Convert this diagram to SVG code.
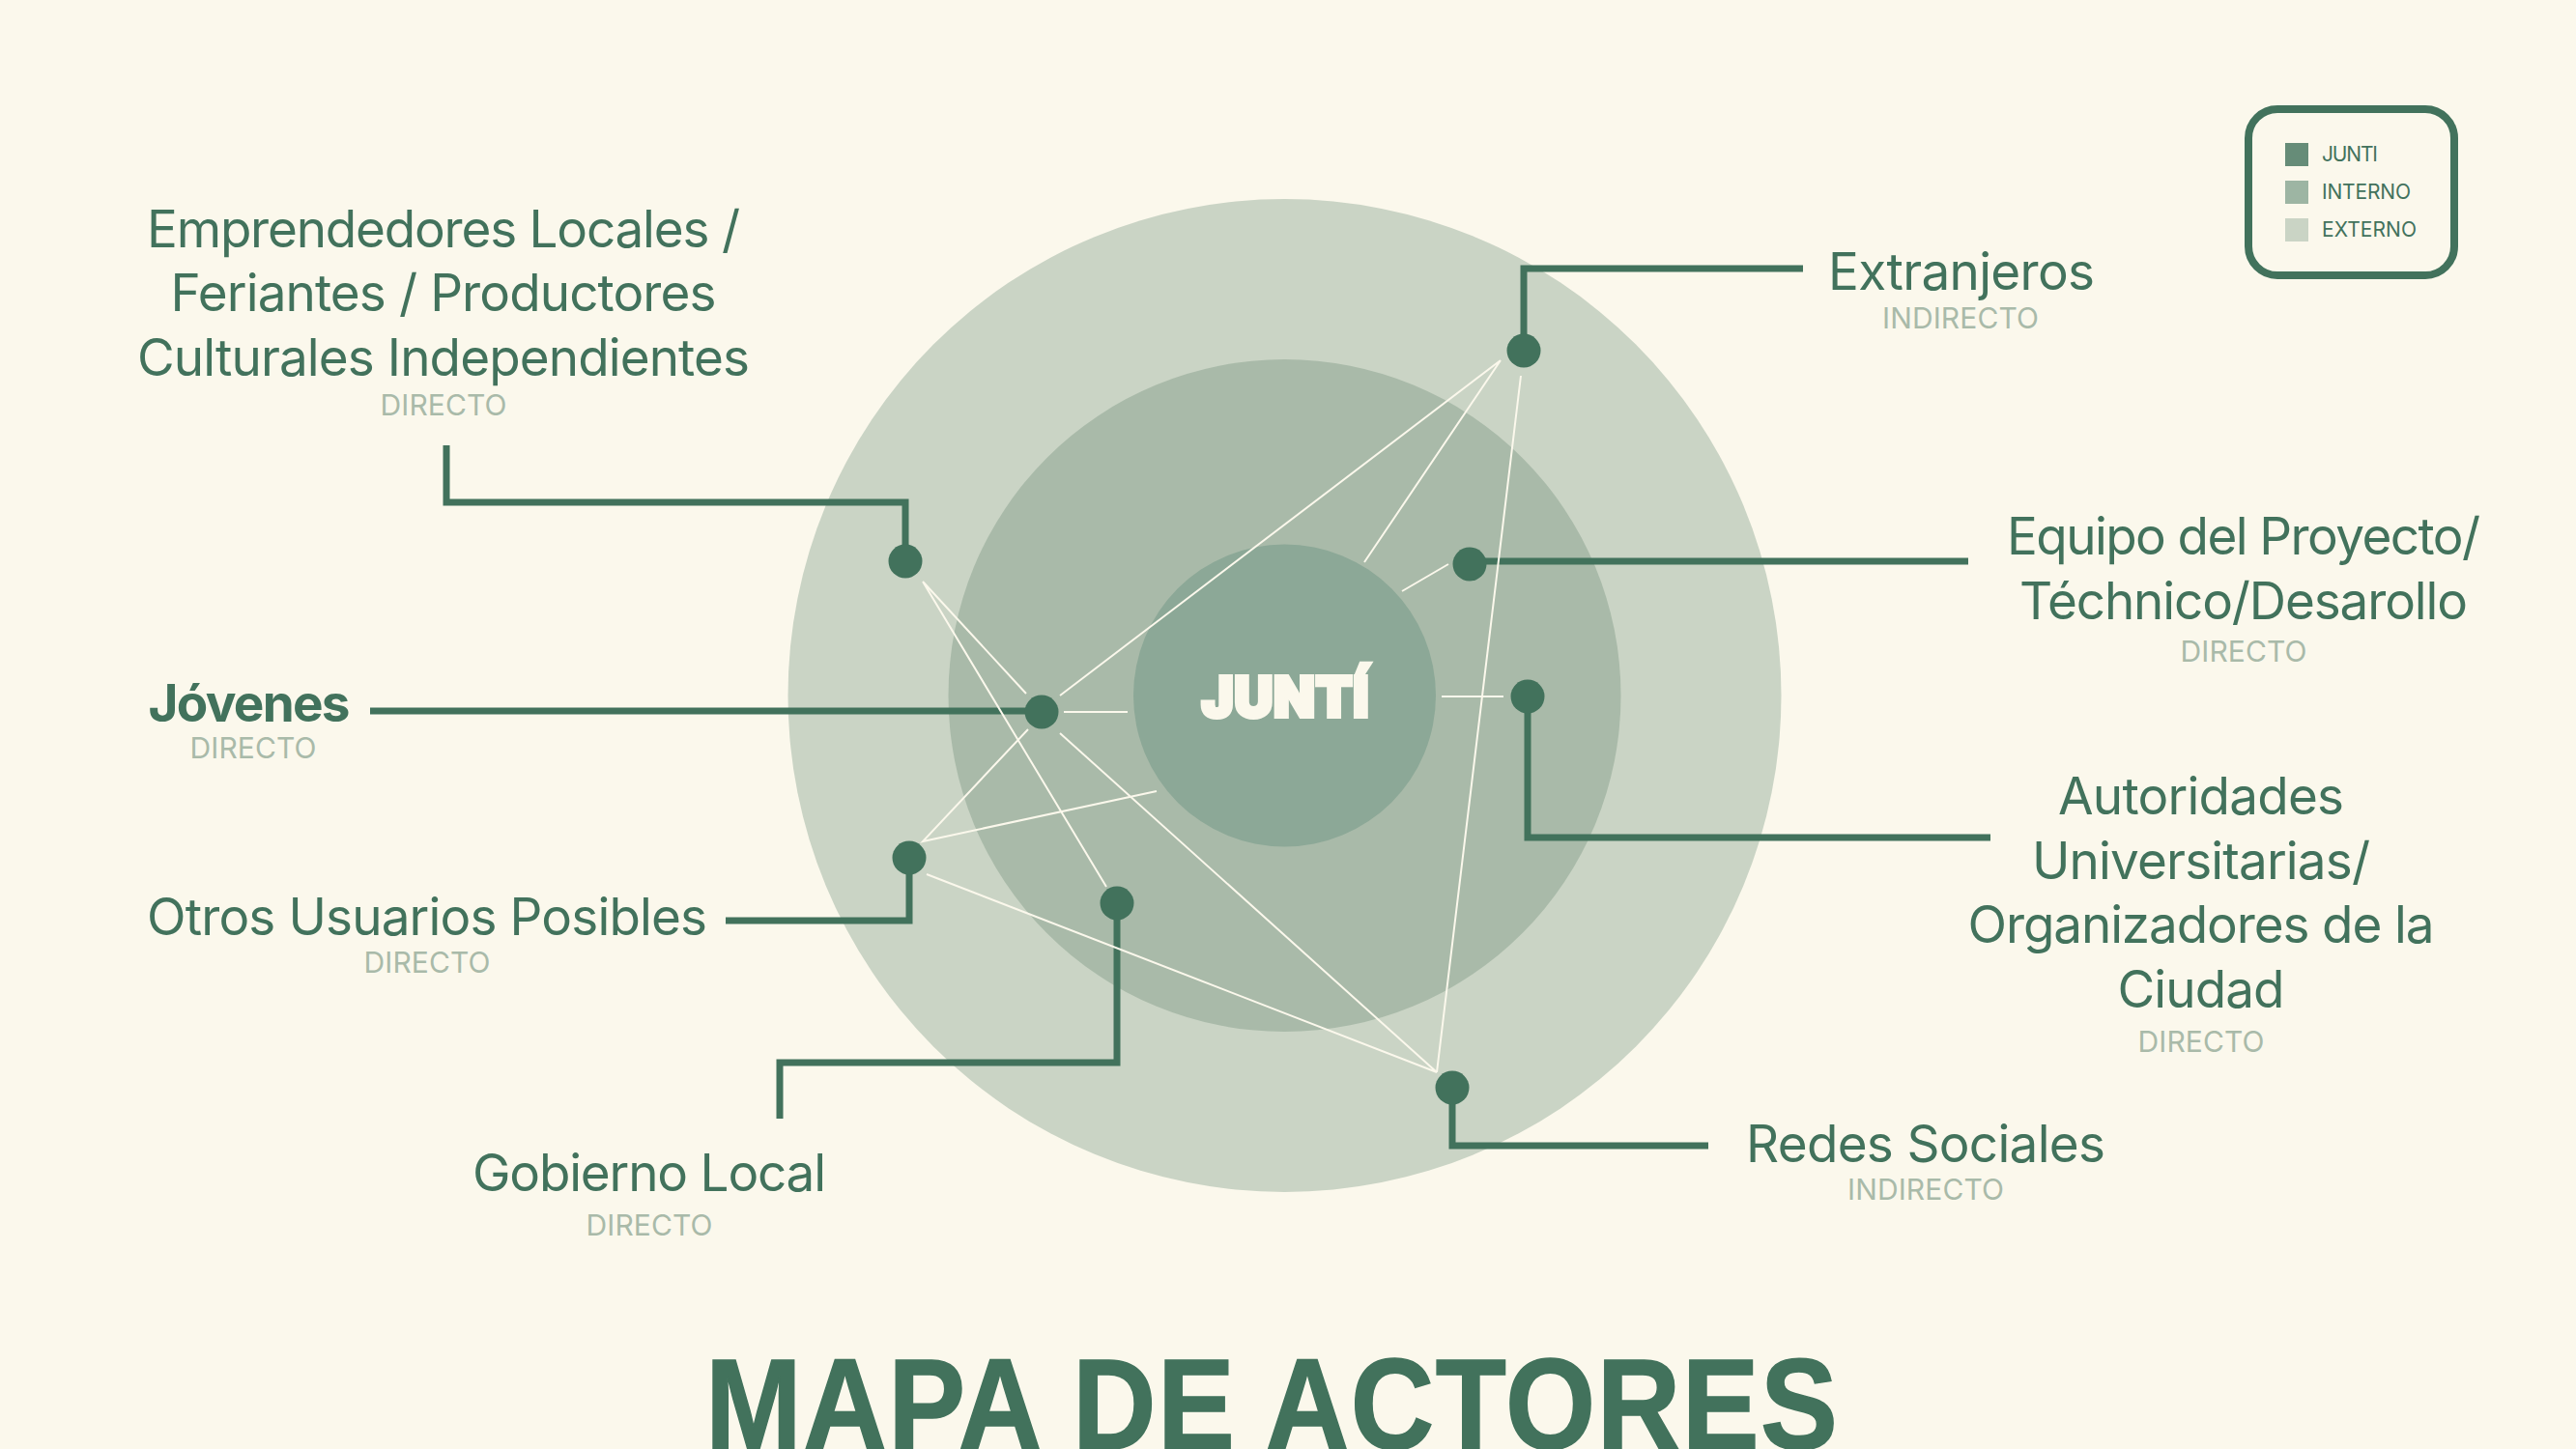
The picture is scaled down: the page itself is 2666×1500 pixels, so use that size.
<svg xmlns="http://www.w3.org/2000/svg" width="2666" height="1500" viewBox="0 0 2666 1500">
<style>
text{font-family:Inter,"Liberation Sans",sans-serif;text-anchor:middle;fill:#42725C}
.n{font-size:53px;font-weight:400}
.b{font-size:53px;font-weight:700}
.s{font-size:30px;font-weight:400;fill:#A9BAA9}
.l{font-size:21px;text-anchor:start}
.d{fill:#42725C}
.c{fill:none;stroke:#42725C;stroke-width:7}
.w{fill:none;stroke:#FBF8EC;stroke-width:2}
</style>
<rect width="2666" height="1500" fill="#FBF8EC"/>
<g id="circulos">
<circle cx="1329.500" cy="720" r="514" fill="#CAD4C5"/>
<circle cx="1329.500" cy="720" r="348" fill="#A9BAA9"/>
<circle cx="1329.500" cy="720" r="156.500" fill="#8CA897"/>
</g>
<g id="junti"><text transform="translate(1330,742) scale(.96,1)" font-size="58" textLength="180" style="font-weight:900;fill:#FBF8EC;stroke:#FBF8EC;stroke-width:4">JUNTÍ</text></g>
<g id="connectors">
<path class="c" d="M1577,363V278H1866"/>
<path class="c" d="M1521,581H2037"/>
<path class="c" d="M1581,721V867H2060"/>
<path class="c" d="M1503,1126V1186H1768"/>
<path class="c" d="M1156,935V1100H807V1158"/>
<path class="c" d="M941,888V953H751"/>
<path class="c" d="M1078,736H383"/>
<path class="c" d="M937,581V520H462V461"/>
<path class="w" d="M955,602L1062,718M955,602L1145,918M1097,720L1553,373M1553,373L1412,582M1101,737H1167M1064,755L955,871L1197,819M1097,759L1487,1110L959,905M1574,389L1487,1110M1499,584L1451,612M1492,721H1556"/>
</g>
<g id="n-emprendedores"><circle class="d" cx="937" cy="581" r="17.500"/>
<text class="n" x="459" y="256" textLength="614">Emprendedores Locales /</text>
<text class="n" x="459" y="322" textLength="565">Feriantes / Productores</text>
<text class="n" x="459" y="389" textLength="634">Culturales Independientes</text>
<text class="s" x="459" y="430" textLength="131">DIRECTO</text></g>
<g id="n-extranjeros"><circle class="d" cx="1577" cy="363" r="17.500"/>
<text class="n" x="2030" y="300" textLength="276">Extranjeros</text>
<text class="s" x="2029" y="340" textLength="162">INDIRECTO</text></g>
<g id="n-equipo"><circle class="d" cx="1521" cy="584" r="17.500"/>
<text class="n" x="2322" y="574" textLength="490">Equipo del Proyecto/</text>
<text class="n" x="2322" y="641" textLength="464">Téchnico/Desarollo</text>
<text class="s" x="2322" y="685" textLength="131">DIRECTO</text></g>
<g id="n-autoridades"><circle class="d" cx="1581" cy="721" r="17.500"/>
<text class="n" x="2278" y="843" textLength="296">Autoridades</text>
<text class="n" x="2278" y="910" textLength="350">Universitarias/</text>
<text class="n" x="2278" y="976" textLength="483">Organizadores de la</text>
<text class="n" x="2278" y="1043" textLength="173">Ciudad</text>
<text class="s" x="2278" y="1089" textLength="131">DIRECTO</text></g>
<g id="n-redes"><circle class="d" cx="1503" cy="1126" r="17.500"/>
<text class="n" x="1993" y="1203" textLength="372">Redes Sociales</text>
<text class="s" x="1993" y="1242" textLength="162">INDIRECTO</text></g>
<g id="n-gobierno"><circle class="d" cx="1156" cy="935" r="17.500"/>
<text class="n" x="672" y="1233" textLength="366">Gobierno Local</text>
<text class="s" x="672" y="1279" textLength="131">DIRECTO</text></g>
<g id="n-otros"><circle class="d" cx="941" cy="888" r="17.500"/>
<text class="n" x="442" y="968" textLength="580">Otros Usuarios Posibles</text>
<text class="s" x="442" y="1007" textLength="131">DIRECTO</text></g>
<g id="n-jovenes"><circle class="d" cx="1078" cy="737" r="17.500"/>
<text class="b" x="258" y="747" textLength="209">Jóvenes</text>
<text class="s" x="262" y="785" textLength="131">DIRECTO</text></g>
<g id="leyenda">
<rect x="2327" y="113" width="213" height="172" rx="30" fill="none" stroke="#42725C" stroke-width="8"/>
<rect x="2365" y="148" width="24" height="24" fill="#668C78"/>
<rect x="2365" y="187" width="24" height="24" fill="#9DB5A3"/>
<rect x="2365" y="226" width="24" height="24" fill="#CAD4C5"/>
<text class="l" x="2403" y="167" textLength="58">JUNTI</text>
<text class="l" x="2403" y="206" textLength="92">INTERNO</text>
<text class="l" x="2403" y="245" textLength="98">EXTERNO</text>
</g>
<g id="titulo"><text transform="translate(1316,1500) scale(.9,1)" style="font-family:'Liberation Sans',sans-serif;stroke:#42725C;stroke-width:1.500" font-size="133" font-weight="700" textLength="1302">MAPA DE ACTORES</text></g>
</svg>
